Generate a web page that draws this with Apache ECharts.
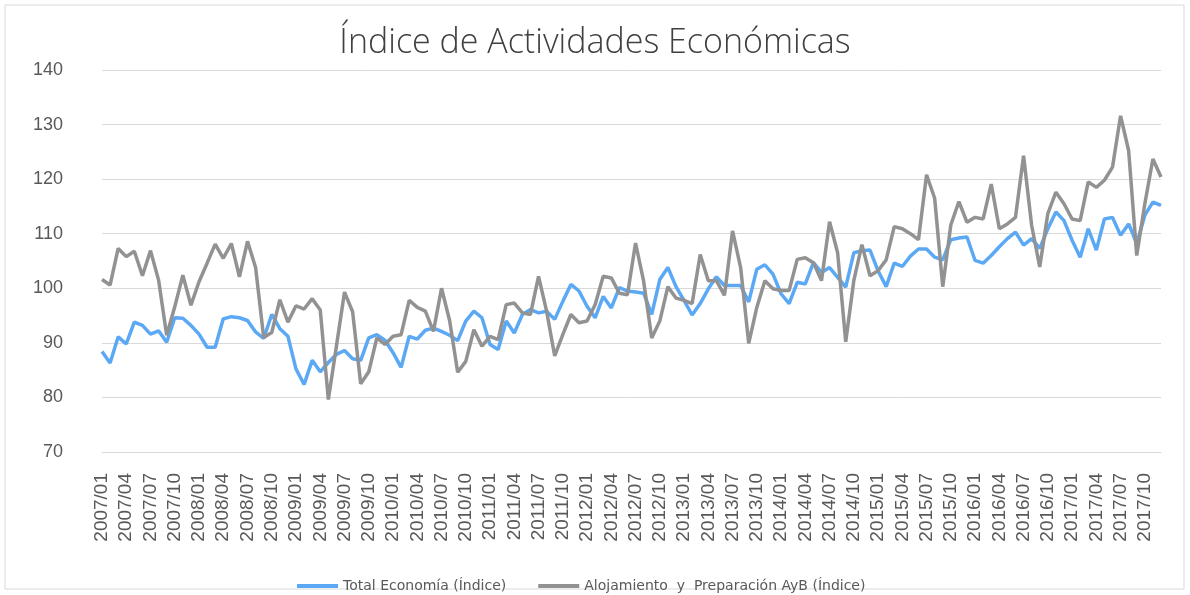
<!DOCTYPE html>
<html lang="es">
<head>
    <meta charset="UTF-8">
    <title>Índice de Actividades Económicas</title>
    <script src="https://cdn.jsdelivr.net/npm/echarts@6/dist/echarts.min.js"></script>
    <style>
        body {
            margin: 0;
            background-color: #ffffff;
        }

        #chart {
            width: 1190px;
            height: 595px;
        }
    </style>
</head>
<body>
    <div id="chart"></div>

    <script>
        // Monthly categories 2007/01 .. 2017/12
        var months = [];
        for (var y = 2007; y <= 2017; y++) {
            for (var m = 1; m <= 12; m++) {
                months.push(y + '/' + (m < 10 ? '0' + m : m));
            }
        }

        // Total Economía (Índice)
        var totalEconomia = [
            88.4, 86.3, 91.1, 89.8, 93.8, 93.2, 91.6, 92.2, 90.1, 94.6, 94.5, 93.2,
            91.6, 89.2, 89.2, 94.4, 94.8, 94.6, 94.1, 92.0, 90.8, 95.2, 92.6, 91.2,
            85.2, 82.4, 86.8, 84.7, 86.4, 87.9, 88.6, 87.1, 86.8, 90.9, 91.5, 90.5,
            88.2, 85.5, 91.2, 90.7, 92.3, 92.7, 92.1, 91.4, 90.4, 94.0, 95.8, 94.6,
            89.7, 88.8, 94.0, 91.8, 95.2, 96.1, 95.5, 95.8, 94.3, 97.6, 100.7, 99.5,
            96.7, 94.6, 98.5, 96.4, 100.1, 99.5, 99.3, 99.1, 95.2, 101.6, 103.8, 100.3,
            97.8, 95.1, 97.2, 99.9, 102.1, 100.5, 100.5, 100.5, 97.5, 103.5, 104.3, 102.6,
            99.0, 97.2, 101.1, 100.8, 104.7, 102.9, 103.8, 102.0, 100.2, 106.5, 106.9, 107.0,
            103.2, 100.3, 104.6, 104.0, 105.9, 107.2, 107.2, 105.7, 105.2, 108.9, 109.2, 109.4,
            105.1, 104.6, 106.0, 107.6, 109.1, 110.3, 107.9, 109.1, 107.3, 110.9, 114.0, 112.4,
            108.8, 105.7, 110.9, 107.0, 112.7, 113.0, 109.7, 111.8, 108.2, 113.4, 115.8, 115.2
        ];

        // Alojamiento y Preparación AyB (Índice)
        var alojamiento = [
            101.6, 100.6, 107.3, 105.8, 106.8, 102.3, 106.9, 101.5, 91.4, 96.6, 102.4, 96.9,
            101.2, 104.6, 108.1, 105.5, 108.2, 102.1, 108.6, 103.8, 91.0, 91.9, 97.9, 93.8,
            96.8, 96.2, 98.1, 96.0, 79.6, 89.4, 99.3, 95.7, 82.5, 84.7, 90.9, 89.7,
            91.2, 91.5, 97.8, 96.5, 95.8, 92.1, 100.0, 94.1, 84.6, 86.6, 92.4, 89.4,
            91.2, 90.6, 97.0, 97.3, 95.5, 95.2, 102.2, 95.8, 87.6, 91.5, 95.2, 93.7,
            94.0, 97.0, 102.2, 101.9, 99.1, 98.8, 108.3, 101.3, 90.9, 94.0, 100.3, 98.2,
            97.8, 97.2, 106.2, 101.4, 101.4, 98.7, 110.5, 103.8, 89.9, 96.5, 101.4, 99.9,
            99.6, 99.6, 105.3, 105.6, 104.7, 101.4, 112.2, 106.5, 90.2, 101.4, 108.0, 102.3,
            103.2, 105.2, 111.3, 110.9, 110.0, 108.9, 120.8, 116.5, 100.3, 111.6, 115.9, 112.1,
            113.0, 112.7, 119.1, 110.9, 111.8, 113.0, 124.3, 111.5, 103.9, 113.7, 117.6, 115.5,
            112.7, 112.4, 119.5, 118.5, 119.8, 122.2, 131.6, 125.2, 106.0, 115.5, 123.7, 120.4
        ];

        var yTicks = [70, 140, 10]; // min, max, step

        var chart = echarts.init(document.getElementById('chart'));

        var option = {
            animation: false,
            backgroundColor: '#ffffff',
            graphic: [{
                type: 'rect',
                shape: { x: 5, y: 5, width: 1179, height: 584 },
                style: { fill: 'none', stroke: '#d9d9d9', lineWidth: 1 },
                silent: true
            }],
            title: {
                text: 'Índice de Actividades Económicas',
                left: 'center',
                top: 21,
                textStyle: {
                    fontFamily: 'Open Sans',
                    fontWeight: 300,
                    fontSize: 34,
                    color: '#404040'
                }
            },
            legend: {
                left: 292,
                top: 574,
                icon: 'rect',
                itemWidth: 41,
                itemHeight: 4,
                itemGap: 32,
                textStyle: {
                    fontFamily: 'DejaVu Sans',
                    fontSize: 14,
                    color: '#595959'
                },
                data: ['Total Economía (Índice)', 'Alojamiento  y  Preparación AyB (Índice)']
            },
            grid: {
                left: 102,
                right: 29,
                top: 70,
                bottom: 143
            },
            xAxis: {
                type: 'category',
                boundaryGap: false,
                data: months,
                axisLine: { lineStyle: { color: '#d9d9d9', width: 1 } },
                axisTick: { show: false },
                axisLabel: {
                    interval: 2,
                    rotate: 90,
                    margin: 21,
                    fontFamily: 'Liberation Sans',
                    fontSize: 19,
                    color: '#595959'
                },
                splitLine: { show: false }
            },
            yAxis: {
                type: 'value',
                min: yTicks[0],
                max: yTicks[1],
                interval: yTicks[2],
                axisLine: { show: false },
                axisTick: { show: false },
                axisLabel: {
                    margin: 39,
                    fontFamily: 'Liberation Sans',
                    fontSize: 18,
                    color: '#595959'
                },
                splitLine: { lineStyle: { color: '#d9d9d9', width: 1 } }
            },
            series: [
                {
                    name: 'Total Economía (Índice)',
                    type: 'line',
                    data: totalEconomia,
                    symbol: 'none',
                    lineStyle: { color: '#5ba8f5', width: 3.5 },
                    itemStyle: { color: '#5ba8f5' }
                },
                {
                    name: 'Alojamiento  y  Preparación AyB (Índice)',
                    type: 'line',
                    data: alojamiento,
                    symbol: 'none',
                    lineStyle: { color: '#929292', width: 3.5 },
                    itemStyle: { color: '#929292' }
                }
            ]
        };

        chart.setOption(option);
    </script>
</body>
</html>
